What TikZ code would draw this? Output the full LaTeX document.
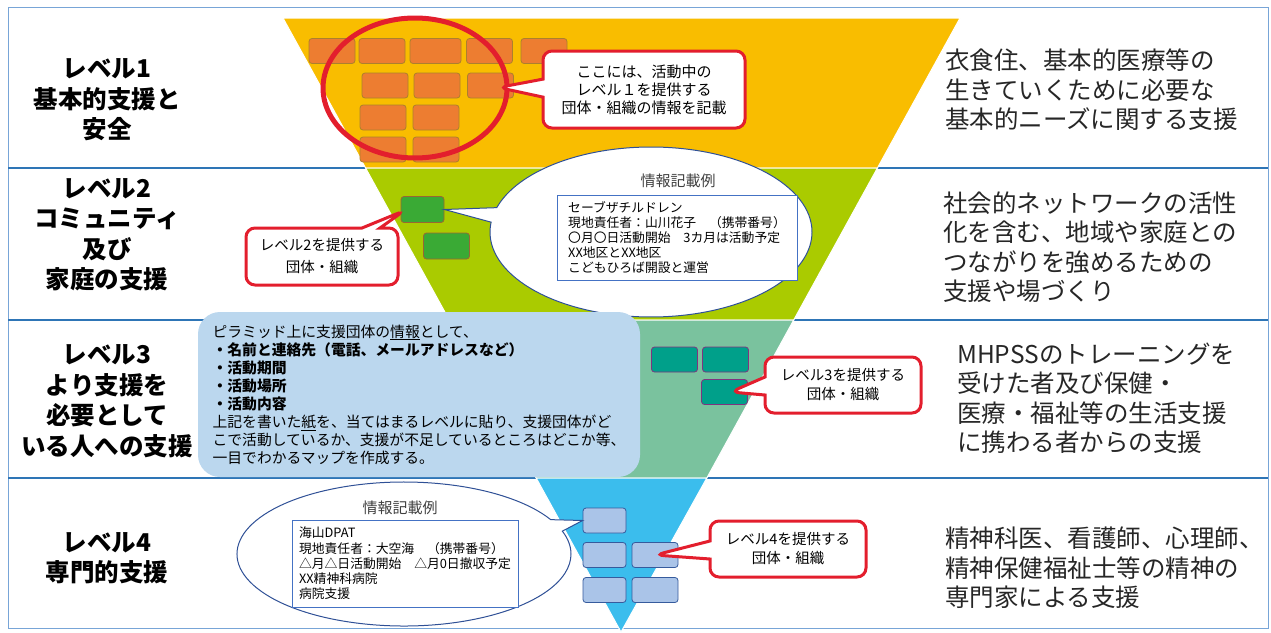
\documentclass[tikz,border=0pt]{standalone}
\usepackage{fontspec}
\setmainfont{Noto Sans CJK JP}
\usetikzlibrary{shapes,shapes.callouts,calc}
\definecolor{lvlone}{RGB}{249,189,0}
\definecolor{lvltwo}{RGB}{170,203,0}
\definecolor{lvlthree}{RGB}{122,194,158}
\definecolor{lvlfour}{RGB}{59,189,237}
\definecolor{brickone}{RGB}{237,125,49}
\definecolor{bricktwo}{RGB}{58,170,53}
\definecolor{brickthree}{RGB}{0,160,138}
\definecolor{brickfour}{RGB}{170,196,232}
\definecolor{notered}{RGB}{227,30,45}
\definecolor{rowline}{RGB}{46,117,182}
\definecolor{frameline}{RGB}{120,165,215}
\definecolor{infoblue}{RGB}{187,215,238}
\definecolor{ovalline}{RGB}{47,80,150}
\definecolor{boxline}{RGB}{68,114,196}

\tikzset{
  brick/.style={draw, minimum width=46pt, minimum height=25pt, inner sep=0pt, rounded corners=3pt, line width=0.8pt},
  redcall/.style={rectangle callout, draw=notered, line width=3pt, fill=white, rounded corners=9pt, align=center, inner sep=0pt, callout pointer width=18pt, font={\fontsize{14.5}{19}\selectfont}},
  oval/.style={ellipse callout, draw=ovalline, line width=1pt, fill=white, inner sep=0pt, callout pointer arc=10},
  infobox/.style={draw=boxline, line width=1pt, fill=white, align=left, inner sep=0pt, font={\fontsize{12.8}{15.2}\selectfont}},
  title/.style={font={\fontsize{15}{18}\selectfont}, text=black!75},
  lvlname/.style={align=center, inner sep=0pt, font={\fontsize{24.5}{30.5}\selectfont\bfseries}},
  lvltext/.style={anchor=west, align=left, inner sep=0pt, text=black!85, font={\fontsize{24.5}{29.5}\selectfont}},
}

\begin{document}
\begin{tikzpicture}[x=1pt,y=-1pt]
    \useasboundingbox (0,0) rectangle (1271,632);
    % frame and rows
    \draw[frameline, line width=1pt] (8,7) rectangle (1268,628);
    \draw[rowline, line width=1.5pt] (8,168) -- (1268,168);
    \draw[rowline, line width=1.5pt] (8,320) -- (1268,320);
    \draw[rowline, line width=1.5pt] (8,478) -- (1268,478);
    % pyramid
    \filldraw[fill=lvlone, draw=white, line width=1pt] (283,18) -- (960,18) -- (877.4,168) -- (365.6,168) -- cycle;
    \filldraw[fill=lvltwo, draw=white, line width=1pt] (365.6,168) -- (877.4,168) -- (793.7,320) -- (449.3,320) -- cycle;
    \filldraw[fill=lvlthree, draw=white, line width=1pt] (449.3,320) -- (793.7,320) -- (706.8,478) -- (536.2,478) -- cycle;
    \filldraw[fill=lvlfour, draw=white, line width=1pt] (536.2,478) -- (706.8,478) -- (621,632) -- cycle;
    % level 1 bricks
    \node[brick, fill=brickone, draw=brown!70!olive] (b11) at (332,51) {};
    \node[brick, fill=brickone, draw=brown!70!olive] (b12) at (382,51) {};
    \node[brick, fill=brickone, draw=brown!70!olive, minimum width=51pt] (b13) at (435.5,51) {};
    \node[brick, fill=brickone, draw=brown!70!olive] (b14) at (489.5,51) {};
    \node[brick, fill=brickone, draw=brown!70!olive] (b15) at (544,51) {};
    \node[brick, fill=brickone, draw=brown!70!olive] (b21a) at (385,85.5) {};
    \node[brick, fill=brickone, draw=brown!70!olive] (b22a) at (437,85.5) {};
    \node[brick, fill=brickone, draw=brown!70!olive] (b23a) at (490.5,85.5) {};
    \node[brick, fill=brickone, draw=brown!70!olive] (b31a) at (383,117.5) {};
    \node[brick, fill=brickone, draw=brown!70!olive] (b32a) at (436,117.5) {};
    \node[brick, fill=brickone, draw=brown!70!olive] (b41a) at (383,149.5) {};
    \node[brick, fill=brickone, draw=brown!70!olive] (b42a) at (436,149.5) {};
    \draw[notered, line width=5pt] (415,88) ellipse (92pt and 70pt);
    % level 2 bricks
    \node[brick, fill=bricktwo, draw=brown!80!black, minimum width=43pt, minimum height=26pt] (b21) at (422.5,209.5) {};
    \node[brick, fill=bricktwo, draw=brown!80!black, minimum height=26pt] (b22) at (446.5,246) {};
    % level 3 bricks
    \node[brick, fill=brickthree, draw=violet!60!gray] (b31) at (674.5,359.5) {};
    \node[brick, fill=brickthree, draw=violet!60!gray] (b32) at (725.5,359.5) {};
    \node[brick, fill=brickthree, draw=violet!60!gray] (b33) at (724.5,392) {};
    % level 4 bricks
    \node[brick, fill=brickfour, draw=boxline!80!black, minimum width=43pt] (b41) at (604.5,520.5) {};
    \node[brick, fill=brickfour, draw=boxline!80!black, minimum width=43pt] (b42) at (604.5,555) {};
    \node[brick, fill=brickfour, draw=boxline!80!black] (b43) at (655,555) {};
    \node[brick, fill=brickfour, draw=boxline!80!black, minimum width=43pt] (b44) at (604.5,590) {};
    \node[brick, fill=brickfour, draw=boxline!80!black] (b45) at (655,590) {};
    % red callouts
    \node[redcall, minimum width=202pt, minimum height=77pt, callout absolute pointer={($(b23a.center)+(8,2)$)}, font={\fontsize{15}{18}\selectfont}] (note1) at (644,89.5) {ここには、活動中の\\レベル１を提供する\\団体・組織の情報を記載};
    \node[redcall, minimum width=152pt, minimum height=57pt, callout absolute pointer={($(b21.west)+(4,1)$)}, font={\fontsize{14.5}{22}\selectfont}] (note2) at (322,256.5) {レベル2を提供する\\団体・組織};
    \node[redcall, minimum width=156pt, minimum height=56pt, callout absolute pointer={($(b33.center)+(6,0)$)}] (note3) at (843,385) {レベル3を提供する\\団体・組織};
    \node[redcall, minimum width=156pt, minimum height=56pt, callout absolute pointer={(b43.center)}] (note4) at (788,549) {レベル4を提供する\\団体・組織};
    % example ovals
    \node[oval, minimum width=322pt, minimum height=170pt, callout absolute pointer={(b21.east)}] (oval2) at (651,232) {};
    \node[title] (ttl2) at (678,181) {情報記載例};
    \node[infobox, minimum width=240pt, minimum height=85pt] (ex2) at (677,237.5) {セーブザチルドレン\\現地責任者：山川花子　（携帯番号）\\〇月〇日活動開始　3カ月は活動予定\\XX地区とXX地区\\こどもひろば開設と運営};
    \node[oval, minimum width=334pt, minimum height=144pt, callout absolute pointer={(b41.west)}] (oval4) at (404,554) {};
    \node[title] (ttl4) at (400,508) {情報記載例};
    \node[infobox, minimum width=226pt, minimum height=87pt] (ex4) at (405,563.5) {海山DPAT\\現地責任者：大空海　（携帯番号）\\△月△日活動開始　△月0日撤収予定\\XX精神科病院\\病院支援};
    % how to use
    \node[fill=infoblue, rounded corners=22pt, minimum width=442pt, minimum height=165pt, inner sep=0pt, align=left, font={\fontsize{14.8}{18}\selectfont}] (howto) at (419,394.5) {ピラミッド上に支援団体の\underline{情報}として、\\
      \textbf{・名前と連絡先（電話、メールアドレスなど）}\\
      \textbf{・活動期間}\\
      \textbf{・活動場所}\\
      \textbf{・活動内容}\\
      上記を書いた\underline{紙}を、当てはまるレベルに貼り、支援団体がど\\
      こで活動しているか、支援が不足しているところはどこか等、\\
      一目でわかるマップを作成する。};
    % level names
    \node[lvlname] (name1) at (107,100) {レベル1\\基本的支援と\\安全};
    \node[lvlname] (name2) at (107,235) {レベル2\\コミュニティ\\及び\\家庭の支援};
    \node[lvlname] (name3) at (107,401) {レベル3\\より支援を\\必要として\\いる人への支援};
    \node[lvlname] (name4) at (107,558) {レベル4\\専門的支援};
    % needs
    \node[lvltext] (need1) at (945,90) {衣食住、基本的医療等の\\生きていくために必要な\\基本的ニーズに関する支援};
    \node[lvltext] (need2) at (943,247) {社会的ネットワークの活性\\化を含む、地域や家庭との\\つながりを強めるための\\支援や場づくり};
    \node[lvltext] (need3) at (957,398) {MHPSSのトレーニングを\\受けた者及び保健・\\医療・福祉等の生活支援\\に携わる者からの支援};
    \node[lvltext] (need4) at (945,568) {精神科医、看護師、心理師、\\精神保健福祉士等の精神の\\専門家による支援};
\end{tikzpicture}
\end{document}
